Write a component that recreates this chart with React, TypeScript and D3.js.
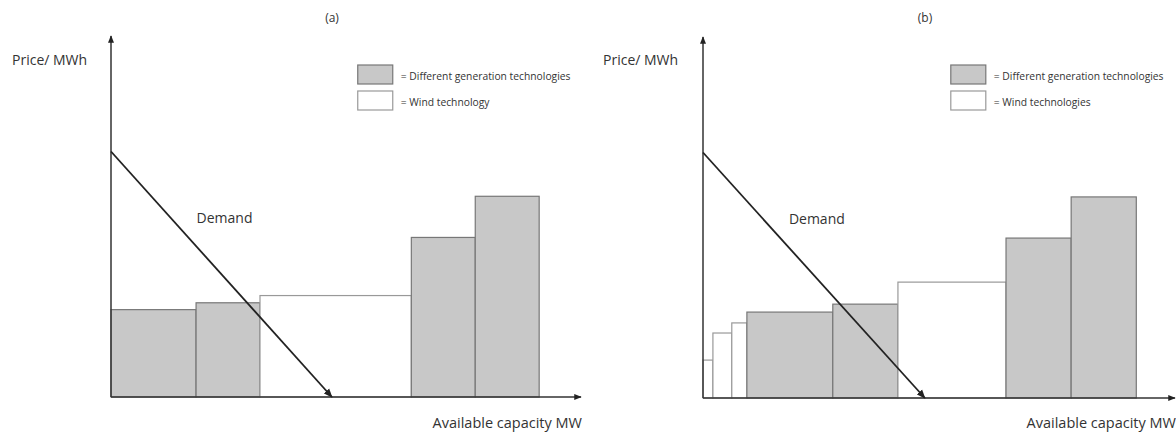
import { useEffect, useRef } from "react";
import * as d3 from "d3";

// capacity (x) and price (y) in arbitrary units, 0-100 per axis
const capacityA = [18.1, 13.6, 32.2, 13.6, 13.6];
const priceA = [24.2, 26.1, 28.1, 44.2, 55.6];
const kindA = ["gen", "gen", "wind", "gen", "gen"];

const capacityB = [2.1, 4.0, 3.2, 18.2, 13.8, 22.9, 13.8, 13.8];
const priceB = [10.5, 18.0, 20.8, 23.8, 26.0, 32.1, 44.3, 55.7];
const kindB = ["wind", "wind", "wind", "gen", "gen", "wind", "gen", "gen"];

const demandCapacity = [0, 47];
const demandPrice = [68, 0];

const panelTitles = ["(a)", "(b)"];
const legendGen = "= Different generation technologies";
const legendWindA = "= Wind technology";
const legendWindB = "= Wind technologies";
const yLabel = "Price/ MWh";
const xLabel = "Available capacity MW";
const demandLabel = "Demand";

const FONT = "'Open Sans', 'Liberation Sans', sans-serif";
const GRAY = "#c8c8c8";

interface PanelCfg {
  title: string;
  capacity: number[];
  price: number[];
  kind: string[];
  windLabel: string;
  left: number;
  right: number;
  top: number;
  bottom: number;
  priceLabelX: number;
}

export default function App() {
  const svgRef = useRef<SVGSVGElement>(null);

  useEffect(() => {
    document.body.style.margin = "0";
    if (!svgRef.current) return;
    const svg = d3.select(svgRef.current);
    svg.selectAll("*").remove();

    const defs = svg.append("defs");
    defs
      .append("marker")
      .attr("id", "arrow")
      .attr("viewBox", "0 0 10 10")
      .attr("refX", 9)
      .attr("refY", 5)
      .attr("markerWidth", 5)
      .attr("markerHeight", 5)
      .attr("orient", "auto")
      .append("path")
      .attr("d", "M0,1 L10,5 L0,9 Z")
      .attr("fill", "#222");

    const panels: PanelCfg[] = [
      {
        title: panelTitles[0],
        capacity: capacityA,
        price: priceA,
        kind: kindA,
        windLabel: legendWindA,
        left: 111,
        right: 581,
        top: 36,
        bottom: 397,
        priceLabelX: 12,
      },
      {
        title: panelTitles[1],
        capacity: capacityB,
        price: priceB,
        kind: kindB,
        windLabel: legendWindB,
        left: 703,
        right: 1175,
        top: 37,
        bottom: 398,
        priceLabelX: 603,
      },
    ];

    panels.forEach((p) => {
      const x = d3.scaleLinear().domain([0, 100]).range([p.left, p.right]);
      const y = d3.scaleLinear().domain([0, 100]).range([p.bottom, p.top]);
      const g = svg.append("g");

      // bars laid end to end
      const starts = d3.cumsum([0, ...p.capacity.slice(0, -1)]);
      const bars = p.capacity.map((c, i) => ({
        x0: starts[i],
        x1: starts[i] + c,
        price: p.price[i],
        kind: p.kind[i],
      }));

      g.selectAll("rect.bar")
        .data(bars)
        .enter()
        .append("rect")
        .attr("class", "bar")
        .attr("x", (d) => x(d.x0))
        .attr("y", (d) => y(d.price))
        .attr("width", (d) => x(d.x1) - x(d.x0))
        .attr("height", (d) => y(0) - y(d.price))
        .attr("fill", (d) => (d.kind === "gen" ? GRAY : "#fff"))
        .attr("stroke", (d) => (d.kind === "gen" ? "#777" : "#999"))
        .attr("stroke-width", 1.2);

      // axes
      g.append("line")
        .attr("x1", x(0))
        .attr("y1", y(0))
        .attr("x2", x(0))
        .attr("y2", y(100))
        .attr("stroke", "#333")
        .attr("stroke-width", 1.5)
        .attr("marker-end", "url(#arrow)");
      g.append("line")
        .attr("x1", x(0))
        .attr("y1", y(0))
        .attr("x2", x(100))
        .attr("y2", y(0))
        .attr("stroke", "#333")
        .attr("stroke-width", 1.5)
        .attr("marker-end", "url(#arrow)");

      // demand line
      const line = d3
        .line<number>()
        .x((d) => x(d))
        .y((_, i) => y(demandPrice[i]));
      g.append("path")
        .attr("d", line(demandCapacity))
        .attr("fill", "none")
        .attr("stroke", "#222")
        .attr("stroke-width", 1.8)
        .attr("marker-end", "url(#arrow)");

      g.append("text")
        .attr("x", x(18.2))
        .attr("y", y(48.2))
        .attr("font-family", FONT)
        .attr("font-size", 14)
        .attr("fill", "#333")
        .text(demandLabel);

      // title
      g.append("text")
        .attr("x", (p.left + p.right) / 2 - 14)
        .attr("y", 22)
        .attr("text-anchor", "middle")
        .attr("font-family", FONT)
        .attr("font-size", 12)
        .attr("fill", "#333")
        .text(p.title);

      g.append("text")
        .attr("x", p.priceLabelX)
        .attr("y", 65)
        .attr("font-family", FONT)
        .attr("font-size", 14)
        .attr("fill", "#333")
        .text(yLabel);

      g.append("text")
        .attr("x", p.right + 1)
        .attr("y", 428)
        .attr("text-anchor", "end")
        .attr("font-family", FONT)
        .attr("font-size", 14.5)
        .attr("fill", "#333")
        .text(xLabel);

      // legend
      const lx = x(52.5);
      const legend = [
        { label: legendGen, fill: GRAY, stroke: "#777" },
        { label: p.windLabel, fill: "#fff", stroke: "#999" },
      ];
      legend.forEach((l, i) => {
        g.append("rect")
          .attr("x", lx)
          .attr("y", 65 + i * 26)
          .attr("width", 35)
          .attr("height", 19)
          .attr("fill", l.fill)
          .attr("stroke", l.stroke)
          .attr("stroke-width", 1.2);
        g.append("text")
          .attr("x", lx + 43)
          .attr("y", 79.5 + i * 26)
          .attr("font-family", FONT)
          .attr("font-size", 10.3)
          .attr("fill", "#333")
          .text(l.label);
      });
    });
  }, []);

  return (
    <div style={{ background: "#fff", width: 1176, height: 432 }}>
      <svg ref={svgRef} width={1176} height={432} style={{ display: "block" }} />
    </div>
  );
}
